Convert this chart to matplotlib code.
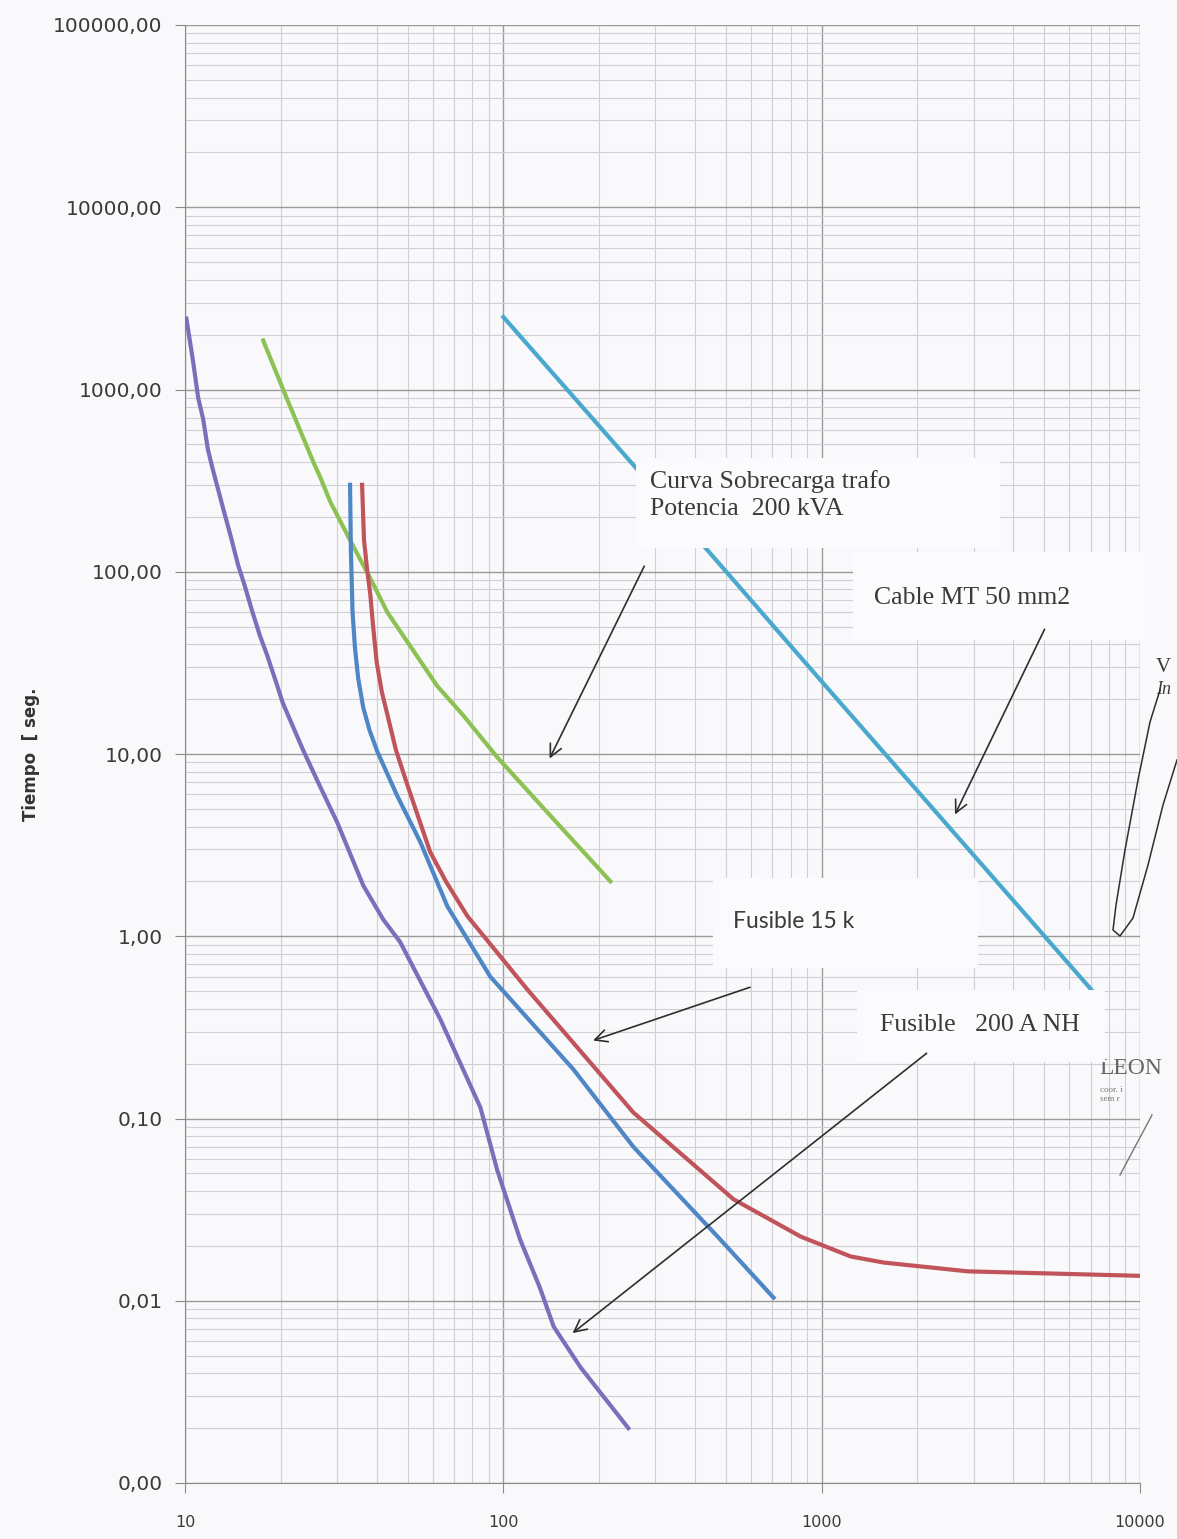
import matplotlib
matplotlib.use('Agg')
import matplotlib.pyplot as plt
import matplotlib.ticker as mticker
from matplotlib.patches import Rectangle
from matplotlib.transforms import Affine2D
import numpy as np

W, H = 1177, 1539

# Curva de fusible NH 200 A (violeta)
nh_x = [10.1, 10.6, 11.0, 11.4, 11.8, 12.2, 13.2, 13.9, 14.7, 15.4, 16.2, 17.2, 18.1,
        19.5, 20.3, 23.5, 26.6, 30.1, 36.3, 41.9, 47.4, 63.4, 84.7, 95.7, 113, 130, 144,
        175, 247]
nh_t = [2450, 1430, 900, 690, 470, 370, 220, 158, 108, 84, 62, 44.5, 35,
        23.6, 19, 10.5, 6.6, 4.2, 1.9, 1.24, 0.93, 0.35, 0.115, 0.052, 0.0216, 0.0119,
        0.0072, 0.0043, 0.002]

# Curva sobrecarga trafo 200 kVA (verde)
trafo_x = [17.6, 20.9, 25.3, 26.6, 28.6, 33.7, 38.2, 43.2, 62.0, 74.8, 95.7, 143.6, 217]
trafo_t = [1860, 890, 400, 330, 242, 139, 92, 60, 23.6, 16.3, 9.6, 4.4, 2.0]

# Fusible 15 k - minimo (azul)
f15a_x = [33.0, 33.2, 33.6, 34.2, 35.0, 36.3, 38.0, 40.2, 46.4, 54.8, 66.7, 91.0, 166,
          256, 471, 706]
f15a_t = [300, 130, 60, 38, 26, 18, 13.5, 10.3, 5.9, 3.3, 1.46, 0.60, 0.186,
          0.070, 0.0225, 0.0104]

# Fusible 15 k - total (rojo)
f15b_x = [36.0, 36.5, 37.3, 38.2, 39.0, 40.0, 41.5, 43.2, 46.0, 49.9, 58.9, 66, 77.1,
          119, 256, 529, 859, 1233, 1567, 2876, 10000]
f15b_t = [300, 150, 104, 75, 50, 32, 22, 16.5, 10.5, 6.8, 2.9, 2.0, 1.29,
          0.51, 0.108, 0.036, 0.0225, 0.0175, 0.0162, 0.0145, 0.0137]

# Cable MT 50 mm2 (celeste)
cable_x = [100, 254, 1000, 7400]
cable_t = [2500, 392, 25, 0.46]

fig = plt.figure(figsize=(W / 100, H / 100), dpi=100, facecolor='#f9f9fc')
ax = fig.add_axes([185 / W, 1 - 1483 / H, (1140 - 185) / W, (1483 - 25) / H])
ax.set_facecolor('#f9f9fc')
# coordenadas en pixeles de la imagen (origen arriba a la izquierda)
px = Affine2D().scale(1 / W, -1 / H).translate(0, 1) + fig.transFigure

ax.set_xscale('log')
ax.set_yscale('log')
ax.set_xlim(10, 10000)
ax.set_ylim(0.001, 100000)

ax.xaxis.set_minor_locator(mticker.LogLocator(base=10, subs=np.arange(2, 10)))
ax.yaxis.set_minor_locator(mticker.LogLocator(base=10, subs=np.arange(2, 10)))
ax.xaxis.set_minor_formatter(mticker.NullFormatter())
ax.yaxis.set_minor_formatter(mticker.NullFormatter())
ax.set_xticks([10, 100, 1000, 10000])
ax.set_xticklabels(['10', '100', '1000', '10000'])
yt = [0.001, 0.01, 0.1, 1, 10, 100, 1000, 10000, 100000]
ax.set_yticks(yt)
ax.set_yticklabels([f'{v:.2f}'.replace('.', ',') for v in yt])

ax.grid(which='major', color='#9a9a9a', lw=1.0)
ax.grid(which='minor', color='#d0d0d4', lw=0.8)
ax.set_axisbelow(True)
for s in ['top', 'right']:
    ax.spines[s].set_visible(False)
for s in ['left', 'bottom']:
    ax.spines[s].set_color('#8a8a8a')
ax.tick_params(which='major', length=7, color='#8a8a8a', labelcolor='#3a3a3a')
ax.tick_params(axis='y', labelsize=14.5, pad=9)
ax.tick_params(axis='x', labelsize=11.5, pad=16)
ax.tick_params(which='minor', length=0)

ax.set_ylabel('Tiempo  [ seg.', fontsize=12, fontweight='bold', color='#333333')
ax.yaxis.set_label_coords(-0.152, 0.5)

lw = 3
ax.plot(nh_x, nh_t, color='#7b6fbb', lw=lw, zorder=3)
ax.plot(trafo_x, trafo_t, color='#8cc153', lw=lw, zorder=3)
ax.plot(f15a_x, f15a_t, color='#4f86c6', lw=lw, zorder=3)
ax.plot(f15b_x, f15b_t, color='#c0545a', lw=lw, zorder=3)
ax.plot(cable_x, cable_t, color='#4aa8cf', lw=lw, zorder=3)

# cajas blancas de las etiquetas
bg = '#fbfbfd'
for x0, y0, x1, y1 in [(636, 458, 1000, 548), (853, 552, 1145, 640),
                       (713, 878, 978, 968), (857, 990, 1105, 1062)]:
    ax.add_patch(Rectangle((x0, y1), x1 - x0, y0 - y1, transform=px, facecolor=bg,
                           edgecolor='none', zorder=5, clip_on=False))

serif = 'Liberation Serif'
tc = '#3a3a3a'
ax.text(650, 470, 'Curva Sobrecarga trafo\nPotencia  200 kVA', transform=px, va='top',
        ha='left', family=serif, fontsize=18.5, color=tc, linespacing=1.3, zorder=6)
ax.text(874, 598, 'Cable MT 50 mm2', transform=px, va='center', ha='left',
        family=serif, fontsize=18.5, color=tc, zorder=6)
ax.text(733, 921, 'Fusible 15 k', transform=px, va='center', ha='left',
        family='Lato', fontsize=16.5, color=tc, zorder=6)
ax.text(880, 1025, 'Fusible   200 A NH', transform=px, va='center', ha='left',
        family=serif, fontsize=18.5, color=tc, zorder=6)

# flechas
arrows = [((279.6, 110.7), (138.5, 9.15)),
          ((5058, 49.9), (2600, 4.51)),
          ((607, 0.531), (187.7, 0.265)),
          ((2170, 0.233), (162.4, 0.0065))]
for (xs, ys), (xe, ye) in arrows:
    ax.annotate('', xy=(xe, ye), xytext=(xs, ys),
                arrowprops=dict(arrowstyle='->', color='#2e2e2e', lw=1.2,
                                mutation_scale=22), zorder=7)

# anotaciones cortadas en el borde derecho
loop_x = [1160, 1150, 1138, 1125, 1116, 1113, 1120, 1133, 1148, 1163, 1177]
loop_y = [690, 722, 780, 850, 905, 930, 936, 918, 865, 805, 760]
ax.plot(loop_x, loop_y, transform=px, color='#2e2e2e', lw=1.1, clip_on=False, zorder=7)
ax.plot([1120, 1152], [1175, 1115], transform=px, color='#777777', lw=1.0,
        clip_on=False, zorder=7)
ax.text(1156, 668, 'V', transform=px, va='center', ha='left', family=serif,
        fontsize=15, color=tc, clip_on=False)
ax.text(1156, 690, 'In', transform=px, va='center', ha='left', family=serif,
        style='italic', fontsize=13, color=tc, clip_on=False)
ax.text(1099, 1068, 'LEON', transform=px, va='center', ha='left', family=serif,
        fontsize=17, color='#666666', clip_on=False)
ax.text(1100, 1090, 'coor. i', transform=px, va='center', ha='left', family=serif,
        fontsize=6.5, color='#777777', clip_on=False)
ax.text(1100, 1099, 'sem r', transform=px, va='center', ha='left', family=serif,
        fontsize=6.5, color='#777777', clip_on=False)

fig.savefig('out.png', dpi=100, facecolor=fig.get_facecolor())
